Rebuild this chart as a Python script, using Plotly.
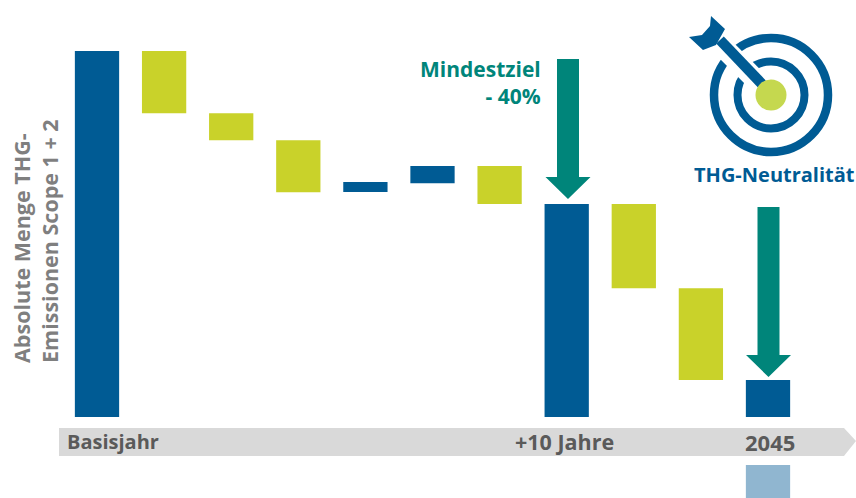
import plotly.graph_objects as go

W, H = 856, 498

# Waterfall steps (index of max = 100)
categories = list(range(11))
bar_base = [0, 83, 75.6, 61.4, 61.5, 63.9, 58.2, 0, 35.2, 10.1, 0]
bar_height = [100, 17, 7.4, 14.2, 2.7, 4.7, 10.4, 58.2, 23, 25.1, 10.1]
bar_kind = ["total", "cut", "cut", "cut", "rise", "rise", "cut", "total", "cut", "cut", "total"]
timeline_labels = ["Basisjahr", "+10 Jahre", "2045"]
residual_category = [10]
residual_base = [-30]
residual_height = [16.9]

BLUE, OLIVE, TEAL = "#005b94", "#c9d22a", "#00857a"
GREY, TEXT_GREY, LIGHT = "#d9d9d9", "#5a5a5a", "#90b6d0"
DOT = "#c5d84f"
FONT = "Open Sans"
colors = {"total": BLUE, "rise": BLUE, "cut": OLIVE}


def px(x):
    return x / W


def py(y):
    return 1 - y / H


def poly(points, color):
    path = "M" + " L".join(f"{px(x):.5f},{py(y):.5f}" for x, y in points) + " Z"
    return dict(type="path", xref="paper", yref="paper", path=path,
                fillcolor=color, line=dict(width=0))


def circle(cx, cy, r, fill, line=None, width=0):
    return dict(type="circle", xref="paper", yref="paper",
                x0=px(cx - r), x1=px(cx + r), y0=py(cy + r), y1=py(cy - r),
                fillcolor=fill, line=dict(color=line or fill, width=width))


def down_arrow(cx, top, neck, tip, half_shaft, half_head):
    return poly([(cx - half_shaft, top), (cx + half_shaft, top), (cx + half_shaft, neck),
                 (cx + half_head, neck), (cx, tip), (cx - half_head, neck),
                 (cx - half_shaft, neck)], TEAL)


def seg(x0, y0, x1, y1, color, width):
    return dict(type="line", xref="paper", yref="paper", x0=px(x0), x1=px(x1),
                y0=py(y0), y1=py(y1), line=dict(color=color, width=width))


fig = go.Figure()
fig.add_bar(x=categories, y=bar_height, base=bar_base,
            marker=dict(color=[colors[k] for k in bar_kind], line=dict(width=0)),
            width=0.66, showlegend=False)
fig.add_bar(x=residual_category, y=residual_height, base=residual_base,
            marker=dict(color=LIGHT, line=dict(width=0)), width=0.66, showlegend=False)

shapes = [
    poly([(59, 428), (844, 428), (856, 441), (844, 456), (59, 456)], GREY),
    down_arrow(568, 59, 177, 199, 11, 22.5),
    down_arrow(768.5, 207, 355, 377, 11, 22.5),
    circle(771, 95, 57, "rgba(0,0,0,0)", BLUE, 8.5),
    circle(771, 95, 33.5, "rgba(0,0,0,0)", BLUE, 8),
    seg(716, 40, 771, 95, "white", 21),
    seg(720, 40, 762, 84, BLUE, 10.5),
    poly([(689, 37), (703, 50), (716, 45), (725, 29), (711, 16), (710, 26), (702, 35)], BLUE),
    circle(771, 95, 15.5, DOT),
]

annotations = []


def label(x, y, text, color, size, anchor="center", angle=0, align=None):
    annotations.append(dict(xref="paper", yref="paper", x=px(x), y=py(y), text=text,
                            showarrow=False, xanchor=anchor, yanchor="middle",
                            textangle=angle,
                            align=align or ("right" if anchor == "right" else "center"),
                            font=dict(family=FONT, size=size, color=color, weight=700)))


label(65, 441.5, timeline_labels[0], TEXT_GREY, 20, "left")
label(564, 441.5, timeline_labels[1], TEXT_GREY, 21.5)
label(769.5, 441.5, timeline_labels[2], TEXT_GREY, 22)
label(35, 241, "Absolute Menge THG-<br>Emissionen Scope 1 + 2", "#7f7f7f", 21.5, angle=-90, align="left")
label(543, 83, "Mindestziel<br>- 40%", TEAL, 21, "right")
label(774, 174, "THG-Neutralität", BLUE, 20)

x_step = 67.1
y_step = 3.66
fig.update_layout(
    width=W, height=H, margin=dict(l=0, r=0, t=0, b=0),
    paper_bgcolor="white", plot_bgcolor="white", barmode="overlay",
    shapes=shapes, annotations=annotations,
    xaxis=dict(range=[-97 / x_step, (W - 97) / x_step], visible=False, fixedrange=True),
    yaxis=dict(range=[(417 - H) / y_step, 417 / y_step], visible=False, fixedrange=True),
)
fig.write_html("out.html", config=dict(displayModeBar=False),
               post_script="document.body.style.margin='0';document.body.style.overflow='hidden';")
